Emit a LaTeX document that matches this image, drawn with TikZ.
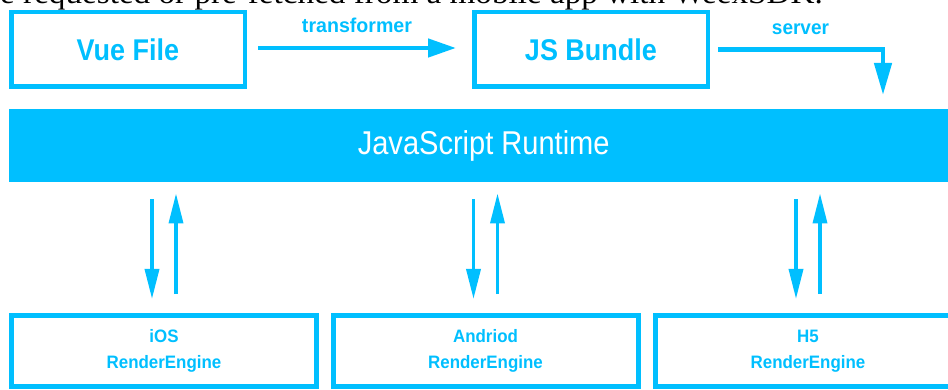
\documentclass[tikz,border=0pt]{standalone}
\usepackage{graphicx}
\usepackage{fontspec}
\setmainfont{Liberation Sans}
\newfontfamily\serifq{Liberation Serif}
\usetikzlibrary{arrows.meta,calc}
\definecolor{wblue}{HTML}{00BFFF}
\newcommand{\sq}[2][0.9]{\scalebox{#1}[1]{#2}}
\begin{document}
\begin{tikzpicture}[x=1pt,y=-1pt,
  boxtop/.style={draw=wblue, line width=4.5pt, minimum width=233.5pt, minimum height=74.5pt,
    inner sep=0pt, text=wblue, font=\fontsize{30}{36}\selectfont\bfseries},
  boxbot/.style={draw=wblue, line width=5pt, minimum width=305pt, minimum height=71pt,
    inner sep=0pt, text=wblue, align=center, font=\fontsize{18}{26}\selectfont\bfseries},
  toparrow/.style={draw=wblue, line width=4.5pt, -{Triangle[length=28pt,width=18pt]}},
  varrow/.style={draw=wblue, line width=3.5pt, -{Triangle[length=30pt,width=14pt]}},
  lbl/.style={text=wblue, inner sep=0pt, font=\fontsize{20}{24}\selectfont\bfseries}]
\useasboundingbox (0,0) rectangle (948,390);

\node[anchor=base west, inner sep=0pt, font=\serifq\fontsize{31}{36}\selectfont] (caption) at (0,4)
  {\sq[1.07]{e requested or pre-fetched from a mobile app with WeexSDK.}};

\node[boxtop] (vue) at (128,49.5) {\sq{Vue File}};
\node[boxtop] (js) at (591,49.5) {\sq{JS Bundle}};

\node[fill=wblue, minimum width=949pt, minimum height=73pt, inner sep=0pt, anchor=north west,
  text=white, font=\fontsize{33}{40}\selectfont] (runtime) at (9,109) {\sq[0.88]{JavaScript Runtime}};

\node[boxbot] (ios) at (164,351) {\raisebox{-2pt}{\sq[0.94]{iOS}}\\\raisebox{-2pt}{\sq[0.94]{RenderEngine}}};
\node[boxbot] (andr) at (485.5,351) {\raisebox{-2pt}{\sq[0.94]{Andriod}}\\\raisebox{-2pt}{\sq[0.94]{RenderEngine}}};
\node[boxbot] (h5) at (808,351) {\raisebox{-2pt}{\sq[0.94]{H5}}\\\raisebox{-2pt}{\sq[0.94]{RenderEngine}}};

\draw[toparrow] ([xshift=11pt,yshift=1.5pt]vue.east) -- ([xshift=-16pt,yshift=1.5pt]js.west)
  node[lbl, midway, above=13pt] {\sq[0.98]{transformer}};

\coordinate (srvend) at (883,95);
\draw[toparrow, -{Triangle[length=32pt,width=17pt]}] ([xshift=8pt]js.east) -| (srvend)
  node[lbl, pos=0.25, above=13pt] {\sq[0.95]{server}};

\foreach \b in {ios,andr,h5}{
  \draw[varrow] ($(\b.north |- runtime.south)+(-12,17)$) -- ($(\b.north)+(-12,-14)$);
  \draw[varrow] ($(\b.north)+(12,-19)$) -- ($(\b.north |- runtime.south)+(12,11)$);
}
\end{tikzpicture}
\end{document}
